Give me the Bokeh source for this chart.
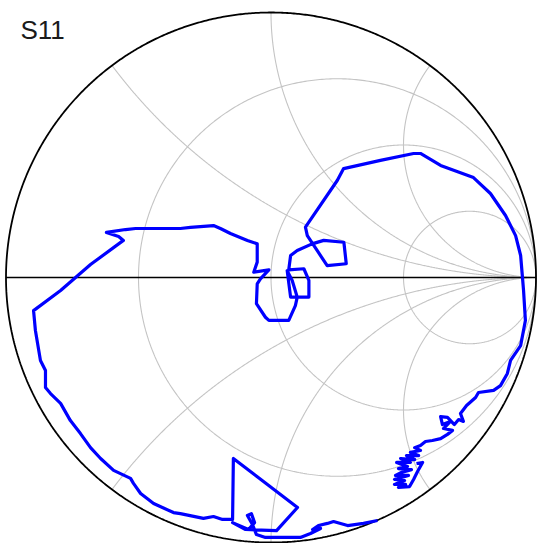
import numpy as np
from bokeh.plotting import figure
from bokeh.models import Range1d, Label
from bokeh.embed import file_html
from bokeh.resources import INLINE

TITLE = "S11"
R_CIRCLES = [1 / 3, 1.0, 3.0]
X_ARCS = [0.5, 1.0, 2.0]

gamma_re = [0.402, 0.349, 0.289, 0.236, 0.213, 0.179, 0.157, 0.187, 0.149, 0.111,
            -0.021, -0.055, -0.070, -0.089, -0.074, -0.062, -0.085, -0.145, -0.096, 0.021,
            0.100, -0.142, -0.145, -0.183, -0.217, -0.255, -0.342, -0.368, -0.443, -0.492,
            -0.519, -0.530, -0.594, -0.643, -0.681, -0.719, -0.757, -0.794, -0.832, -0.851,
            -0.851, -0.870, -0.889, -0.896, -0.794, -0.681, -0.557, -0.575, -0.621, -0.549,
            -0.511, -0.342, -0.304, -0.217, -0.191, -0.153, -0.089, -0.052, -0.052, -0.065,
            -0.008, -0.040, -0.052, -0.055, -0.021, -0.008, 0.067, 0.092, 0.099, 0.080,
            0.061, 0.074, 0.143, 0.143, 0.124, 0.067, 0.074, 0.099, 0.155, 0.199,
            0.275, 0.284, 0.212, 0.174, 0.137, 0.130, 0.250, 0.274, 0.413, 0.538,
            0.564, 0.640, 0.764, 0.828, 0.885, 0.923, 0.942, 0.949, 0.953, 0.960,
            0.942, 0.904, 0.892, 0.866, 0.840, 0.783, 0.772, 0.738, 0.715, 0.726,
            0.708, 0.692, 0.666, 0.640, 0.647, 0.677, 0.651, 0.685, 0.666, 0.640,
            0.609, 0.583, 0.564, 0.542, 0.564, 0.526, 0.557, 0.511, 0.542, 0.489,
            0.526, 0.474, 0.515, 0.481, 0.530, 0.492, 0.470, 0.519, 0.466, 0.504,
            0.466, 0.508, 0.481, 0.523, 0.538, 0.553, 0.572, 0.549]
gamma_im = [-0.917, -0.928, -0.936, -0.921, -0.928, -0.936, -0.951, -0.947, -0.966, -0.981,
            -0.981, -0.970, -0.932, -0.898, -0.891, -0.925, -0.951, -0.925, -0.951, -0.955,
            -0.868, -0.683, -0.913, -0.913, -0.902, -0.909, -0.891, -0.887, -0.853, -0.815,
            -0.777, -0.758, -0.728, -0.683, -0.642, -0.589, -0.540, -0.475, -0.438, -0.415,
            -0.351, -0.313, -0.200, -0.125, -0.049, 0.049, 0.140, 0.155, 0.170, 0.181,
            0.185, 0.185, 0.189, 0.196, 0.185, 0.166, 0.140, 0.127, 0.058, 0.020,
            0.029, -0.005, -0.024, -0.099, -0.150, -0.162, -0.162, -0.106, -0.074, -0.011,
            0.026, -0.074, -0.074, -0.011, 0.033, 0.029, 0.083, 0.102, 0.127, 0.140,
            0.133, 0.052, 0.045, 0.102, 0.158, 0.190, 0.366, 0.411, 0.442, 0.468,
            0.468, 0.423, 0.377, 0.317, 0.234, 0.158, 0.083, 0.000, -0.049, -0.162,
            -0.257, -0.313, -0.362, -0.408, -0.426, -0.434, -0.453, -0.483, -0.513, -0.543,
            -0.536, -0.555, -0.528, -0.525, -0.555, -0.543, -0.570, -0.577, -0.592, -0.608,
            -0.615, -0.619, -0.634, -0.642, -0.653, -0.660, -0.672, -0.672, -0.687, -0.683,
            -0.698, -0.698, -0.713, -0.721, -0.725, -0.736, -0.747, -0.747, -0.762, -0.766,
            -0.781, -0.781, -0.792, -0.789, -0.762, -0.732, -0.698, -0.702]

W, H = 539, 543
SCALE = 265.0
CX, CY = 270.5, 277.0  # chart centre inside the canvas (px)

p = figure(width=W, height=H, output_backend="svg", toolbar_location=None,
           x_range=Range1d(-CX / SCALE, (W - CX) / SCALE),
           y_range=Range1d((CY - H) / SCALE, CY / SCALE),
           x_axis_location=None, y_axis_location=None,
           min_border=0, outline_line_color=None,
           background_fill_color="white", border_fill_color="white")
p.grid.visible = False


def to_gamma(z):
    return (z - 1) / (z + 1)


t = np.concatenate([[0.0], np.logspace(-3, 4, 1500)])
grid_xs, grid_ys = [], []
for r in R_CIRCLES:
    xv = np.concatenate([-t[::-1], t])
    g = to_gamma(r + 1j * xv)
    grid_xs.append(g.real)
    grid_ys.append(g.imag)
for xr in X_ARCS:
    for s in (1, -1):
        g = to_gamma(t + 1j * s * xr)
        grid_xs.append(g.real)
        grid_ys.append(g.imag)

p.multi_line(grid_xs, grid_ys, line_color="#c4c4c4", line_width=1.1)

p.line([-1, 1], [0, 0], line_color="black", line_width=1.6)
th = np.linspace(0, 2 * np.pi, 1000)
p.line(np.cos(th), np.sin(th), line_color="black", line_width=1.8)

p.line(gamma_re, gamma_im, line_color="#0000ff", line_width=3.2, line_join="round")

p.add_layout(Label(x=20, y=H - 29, x_units="screen", y_units="screen", text=TITLE,
                   text_font="Liberation Sans", text_font_size="26px",
                   text_color="#1a1a1a", text_baseline="alphabetic"))

open("out.html", "w").write(file_html(p, INLINE))
